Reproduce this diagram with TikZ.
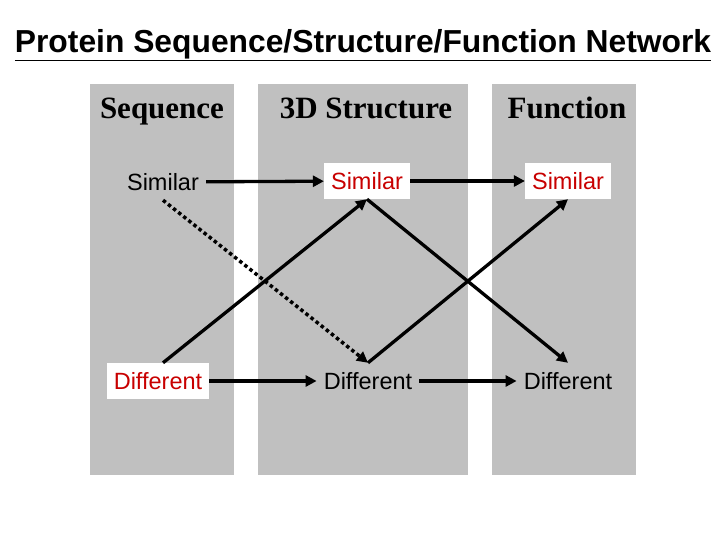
\documentclass[tikz,border=0pt]{standalone}
\usepackage{fontspec}
\setmainfont{Liberation Serif}
\newfontfamily\arialfont{Liberation Sans}
\usetikzlibrary{arrows.meta}
\definecolor{colgray}{RGB}{192,192,192}
\definecolor{labred}{RGB}{200,0,0}
\tikzset{
  lab/.style={font=\arialfont\fontsize{23.5}{26}\selectfont, minimum height=36pt, inner xsep=7pt, inner ysep=0pt},
  redbox/.style={lab, fill=white, text=labred},
  head/.style={font=\bfseries\fontsize{31}{34}\selectfont, anchor=base},
  link/.style={line width=3.3pt, -{Triangle[length=11pt,width=11pt]}}
}
\begin{document}
\begin{tikzpicture}[x=1pt,y=-1pt]
        \useasboundingbox (0,0) rectangle (720,540);
        \fill[colgray] (90,84) rectangle (234,475);
        \fill[colgray] (258,84) rectangle (468,475);
        \fill[colgray] (492,84) rectangle (636,475);
        \node[font=\arialfont\bfseries\fontsize{31.8}{34}\selectfont] (title) at (363,45) {\underline{Protein Sequence/Structure/Function Network}};
        \node[head] (hseq) at (162,119) {Sequence};
        \node[head] (hstr) at (366,119) {3D Structure};
        \node[head] (hfun) at (567,119) {Function};
        \node[lab] (s1) at (163,182) {Similar};
        \node[redbox] (s2) at (367,181) {Similar};
        \node[redbox] (s3) at (568,181) {Similar};
        \node[redbox] (d1) at (158,381) {Different};
        \node[lab] (d2) at (368,381) {Different};
        \node[lab] (d3) at (568,381) {Different};
        \draw[link] (s1) -- (s2);
        \draw[link] (s2) -- (s3);
        \draw[link] (d1) -- (d2);
        \draw[link] (d2) -- (d3);
        \draw[link] (d1.north -| 163,0) -- (s2.south);
        \draw[link] (s2.south) -- (d3.north);
        \draw[link] (d2.north) -- (s3.south);
        \draw[link, line width=3.5pt, dash pattern=on 3.5pt off 3pt] (s1.south) -- (d2.north);
\end{tikzpicture}
\end{document}
